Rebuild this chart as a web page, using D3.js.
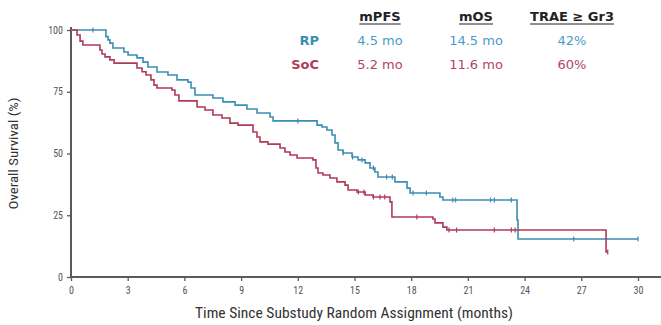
<!DOCTYPE html>
<html>
<head>
<meta charset="utf-8">
<script src="https://cdn.jsdelivr.net/npm/d3@7"></script>
<style>
  body { margin: 0; background: #fff; }
  svg { display: block; }
</style>
</head>
<body>
<script>
const width = 661;
const height = 325;

// Kaplan-Meier steps: time (months) -> survival (%)
const rpTime = [1.85, 1.96, 2.06, 2.22, 2.8, 3.02, 3.49, 3.81, 4.07, 4.55, 5.13, 5.61, 6.19, 6.35, 6.56,
  7.51, 8.04, 8.68, 9.31, 9.84, 10.53, 10.69, 13.02, 13.28, 13.54, 13.81, 13.97, 14.13, 14.39, 14.87,
  15.19, 15.56, 15.82, 16.08, 16.24, 17.14, 17.78, 17.94, 19.52, 19.68, 23.6, 23.65];
const rpSurv = [97.3, 96.0, 94.7, 92.7, 91.1, 89.9, 88.7, 87.0, 85.0, 83.0, 81.8, 79.8, 78.9, 76.5, 73.7,
  72.5, 70.9, 69.6, 68.0, 66.4, 64.8, 63.2, 61.5, 60.7, 59.5, 57.5, 54.3, 51.4, 50.2, 48.6,
  47.4, 46.2, 44.1, 42.5, 40.5, 38.5, 36.0, 34.0, 32.4, 31.2, 23.1, 15.4];
const rpEnd = 30.0;
const rpCensor = [1.16, 12.0, 14.4, 14.9, 15.4, 16.0, 16.7, 17.0, 18.1, 18.8, 20.2, 20.35, 22.2, 22.4, 23.3, 26.6, 30.0];

const socTime = [0.32, 0.48, 0.63, 1.53, 1.64, 1.8, 2.06, 2.28, 3.49, 3.76, 3.97, 4.23, 4.39, 4.55, 5.34,
  5.5, 5.71, 6.67, 7.09, 7.51, 7.99, 8.41, 8.84, 9.63, 9.84, 10.0, 10.42, 11.06, 11.32, 11.59, 11.96,
  12.8, 12.96, 13.07, 13.33, 13.7, 14.07, 14.5, 14.66, 15.13, 15.56, 15.98, 16.88, 16.98, 19.15, 19.26,
  19.68, 19.89, 28.31];
const socSurv = [98.0, 95.5, 93.9, 91.9, 90.3, 89.1, 87.9, 86.6, 84.6, 83.1, 81.8, 79.8, 77.7, 76.5, 75.7,
  73.7, 71.3, 68.8, 67.6, 65.6, 64.4, 62.3, 61.5, 58.7, 56.7, 54.7, 53.8, 52.2, 50.6, 49.4, 48.2,
  47.4, 44.1, 42.1, 41.3, 40.1, 38.5, 37.2, 35.2, 34.4, 33.2, 32.4, 30.4, 24.3, 23.5, 21.9,
  20.2, 19.0, 10.1];
const socEnd = 28.4;
const socCensor = [15.2, 15.5, 16.0, 16.35, 16.6, 18.3, 20.0, 20.4, 22.4, 23.3, 23.5, 28.4];

const xTicks = [0, 3, 6, 9, 12, 15, 18, 21, 24, 27, 30];
const yTicks = [0, 25, 50, 75, 100];

const columns = ["mPFS", "mOS", "TRAE \u2265 Gr3"];
const rowNames = ["RP", "SoC"];
const rpStats = ["4.5 mo", "14.5 mo", "42%"];
const socStats = ["5.2 mo", "11.6 mo", "60%"];

const blue = "#3b8db3";
const red = "#b03a57";
const blueText = "#4a9cc9";
const redText = "#b2465e";
const axisColor = "#5a5a5a";
const narrow = "'Liberation Sans Narrow', 'Roboto Condensed', 'Arial Narrow', Roboto, sans-serif";

const svg = d3.select("body").append("svg")
    .attr("width", width)
    .attr("height", height);

const x = d3.scaleLinear().domain([0, 30]).range([71, 638]);
const y = d3.scaleLinear().domain([0, 100]).range([277, 30]);

// axes
const xAxis = svg.append("g")
    .attr("transform", "translate(0," + y(0) + ")")
    .call(d3.axisBottom(x).tickValues(xTicks).tickSize(4).tickPadding(6));
xAxis.select(".domain").attr("d", "M" + x(0) + ",0H" + width);
const yAxis = svg.append("g")
    .attr("transform", "translate(" + x(0) + ",0)")
    .call(d3.axisLeft(y).tickValues(yTicks).tickSize(4).tickPadding(4));
yAxis.select(".domain").attr("d", "M0," + (y(100) - 3) + "V" + y(0));

svg.selectAll(".domain").attr("stroke", axisColor).attr("stroke-width", 2);
svg.selectAll(".tick line").attr("stroke", axisColor).attr("stroke-width", 1.3);
svg.selectAll(".tick text")
    .attr("fill", "#555")
    .style("font-family", narrow)
    .style("font-size", "10px");

// axis titles
svg.append("text")
    .attr("x", 354)
    .attr("y", 318)
    .attr("text-anchor", "middle")
    .attr("textLength", 318)
    .attr("lengthAdjust", "spacingAndGlyphs")
    .style("font-family", narrow)
    .style("font-size", "14px")
    .attr("fill", "#333")
    .text("Time Since Substudy Random Assignment (months)");

svg.append("text")
    .attr("transform", "translate(18," + y(50) + ") rotate(-90)")
    .attr("text-anchor", "middle")
    .attr("textLength", 112)
    .attr("lengthAdjust", "spacingAndGlyphs")
    .style("font-family", narrow)
    .style("font-size", "12.5px")
    .attr("fill", "#333")
    .text("Overall Survival (%)");

// curves
function steps(times, surv, end) {
  const pts = [[0, 100]];
  times.forEach((t, i) => pts.push([t, surv[i]]));
  pts.push([end, surv[surv.length - 1]]);
  return pts;
}
function survAt(times, surv, t) {
  let s = 100;
  times.forEach((tt, i) => { if (tt <= t) s = surv[i]; });
  return s;
}

const line = d3.line()
    .x(d => x(d[0]))
    .y(d => y(d[1]))
    .curve(d3.curveStepAfter);

const arms = [
  { times: rpTime, surv: rpSurv, end: rpEnd, censor: rpCensor, color: blue },
  { times: socTime, surv: socSurv, end: socEnd, censor: socCensor, color: red }
];

arms.forEach(arm => {
  svg.append("path")
      .attr("d", line(steps(arm.times, arm.surv, arm.end)))
      .attr("fill", "none")
      .attr("stroke", arm.color)
      .attr("stroke-width", 1.6);
  svg.selectAll(null)
      .data(arm.censor)
      .enter().append("line")
      .attr("x1", d => x(d))
      .attr("x2", d => x(d))
      .attr("y1", d => y(survAt(arm.times, arm.surv, d)) - 2.5)
      .attr("y2", d => y(survAt(arm.times, arm.surv, d)) + 2.5)
      .attr("stroke", arm.color)
      .attr("stroke-width", 1.2);
});

// summary table
const col = d3.scalePoint().domain(columns).range([380, 572]);
const row = d3.scalePoint().domain(["head"].concat(rowNames)).range([21, 69]);

columns.forEach(c => {
  const t = svg.append("text")
      .attr("x", col(c))
      .attr("y", row("head"))
      .attr("text-anchor", "middle")
      .style("font-family", "'DejaVu Sans', Verdana, sans-serif")
      .style("font-size", "13px")
      .style("font-weight", "bold")
      .attr("fill", "#222")
      .text(c);
  const w = t.node().getComputedTextLength();
  svg.append("line")
      .attr("x1", col(c) - w / 2)
      .attr("x2", col(c) + w / 2)
      .attr("y1", row("head") + 3)
      .attr("y2", row("head") + 3)
      .attr("stroke", "#222")
      .attr("stroke-width", 1.2);
});

const rows = [
  { name: "RP", stats: rpStats, color: blue, text: blueText },
  { name: "SoC", stats: socStats, color: red, text: redText }
];
rows.forEach(r => {
  svg.append("text")
      .attr("x", 319)
      .attr("y", row(r.name))
      .attr("text-anchor", "end")
      .style("font-family", "'DejaVu Sans', Verdana, sans-serif")
      .style("font-size", "13px")
      .style("font-weight", "bold")
      .attr("fill", r.color)
      .text(r.name);
  r.stats.forEach((s, i) => {
    svg.append("text")
        .attr("x", col(columns[i]))
        .attr("y", row(r.name))
        .attr("text-anchor", "middle")
        .style("font-family", "'DejaVu Sans', Verdana, sans-serif")
        .style("font-size", "13px")
        .attr("fill", r.text)
        .text(s);
  });
});
</script>
</body>
</html>
